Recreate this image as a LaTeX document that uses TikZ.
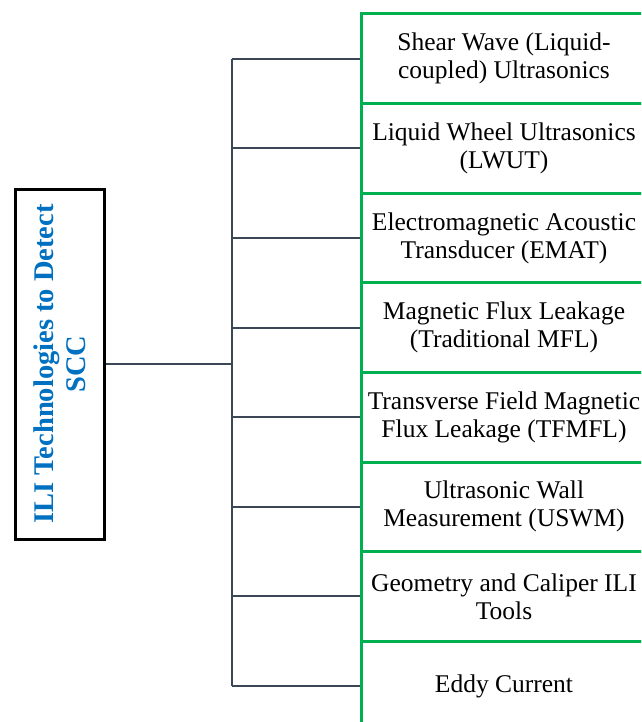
\documentclass[tikz,border=0pt]{standalone}
\usepackage{fontspec}
\setmainfont{Liberation Serif}
\definecolor{boxgreen}{HTML}{00B050}
\definecolor{linkgray}{HTML}{3B4656}
\definecolor{titleblue}{HTML}{0070C0}
\begin{document}
\begin{tikzpicture}[x=1pt,y=-1pt,
  tech/.style={draw=boxgreen, line width=3pt, minimum width=286pt, minimum height=89.6pt,
    inner sep=0pt, align=center, font=\fontsize{25.5}{28}\selectfont},
  link/.style={draw=linkgray, line width=2pt},
  titlebox/.style={draw=black, line width=3pt, minimum width=350pt, minimum height=89pt,
    rotate=90, inner sep=0pt, align=center, text=titleblue,
    font=\fontsize{28.5}{32}\selectfont\bfseries}]
\useasboundingbox (0,0) rectangle (641,722);
\clip (0,0) rectangle (641,722);
% title box on the left
\node[titlebox] (title) at (59.5,364) {ILI Technologies to Detect\\SCC};
% technology boxes stacked on the right
\foreach \i/\txt in {1/{Shear Wave (Liquid-\\coupled) Ultrasonics},
  2/{Liquid Wheel Ultrasonics\\(LWUT)},
  3/{Electromagnetic Acoustic\\Transducer (EMAT)},
  4/{Magnetic Flux Leakage\\(Traditional MFL)},
  5/{Transverse Field Magnetic\\Flux Leakage (TFMFL)},
  6/{Ultrasonic Wall\\Measurement (USWM)},
  7/{Geometry and Caliper ILI\\Tools},
  8/{Eddy Current}}{
  \node[tech] (t\i) at (504, 14+89.6*\i-44.8) {\txt};
  \coordinate (b\i) at (232, 14+89.6*\i-44.8);
}
% connectors
\coordinate (hub) at (232,364);
\draw[link] (title.south) -- (hub);
\draw[link] (b1) -- (b8);
\foreach \i in {1,...,8}{\draw[link] (b\i) -- (t\i.west);}
\end{tikzpicture}
\end{document}
